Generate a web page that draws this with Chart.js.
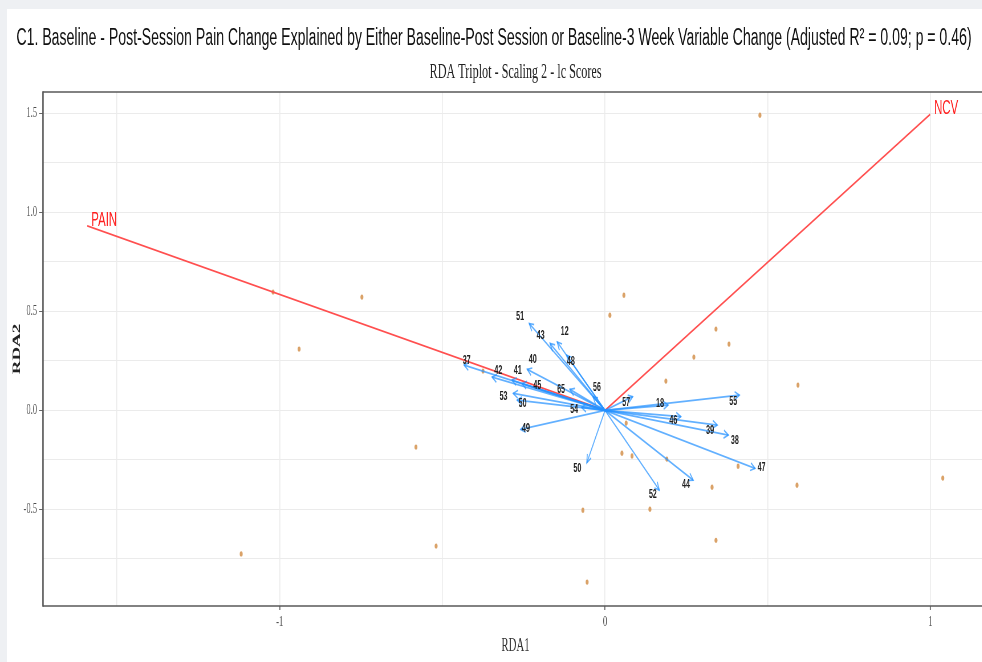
<!DOCTYPE html>
<html><head><meta charset="utf-8">
<script src="https://cdn.jsdelivr.net/npm/chart.js@4.4.1/dist/chart.umd.min.js"></script>
<style>
html,body{margin:0;padding:0;width:982px;height:662px;overflow:hidden;background:#eef0f3;}
#panel{position:absolute;left:7px;top:9px;width:1000px;height:700px;background:#fff;}
#c{position:absolute;left:0;top:0;transform-origin:0 0;}
</style></head>
<body>
<div id="panel"></div>
<canvas id="c" width="1754" height="662"></canvas>
<script>
// ---- data ----
const titleText = 'C1. Baseline - Post-Session Pain Change Explained by Either Baseline-Post Session or Baseline-3 Week Variable Change (Adjusted R\u00B2 = 0.09; p = 0.46)';
const subtitleText = 'RDA Triplot - Scaling 2 - lc Scores';

const pointX = [0.476,-1.020,-0.747,-0.940,0.058,0.015,0.341,0.381,0.273,0.187,0.593,-0.581,0.065,0.052,0.083,0.190,0.409,0.329,0.590,1.038,-0.068,0.138,0.341,-0.519,-1.118,-0.055,-0.375];
const pointY = [1.491,0.598,0.572,0.310,0.582,0.481,0.411,0.335,0.269,0.148,0.128,-0.185,-0.064,-0.216,-0.230,-0.246,-0.282,-0.388,-0.378,-0.342,-0.504,-0.499,-0.656,-0.685,-0.725,-0.867,0.199];

const arrowNames = ['51','43','12','48','40','37','42','41','45','65','56','53','50','54','49','50','52','57','18','55','46','39','38','47','44'];
const arrowX = [-0.233,-0.169,-0.147,-0.118,-0.239,-0.433,-0.347,-0.286,-0.255,-0.108,-0.037,-0.282,-0.270,-0.072,-0.259,-0.056,0.167,0.085,0.194,0.413,0.233,0.345,0.379,0.461,0.271];
const arrowY = [0.439,0.338,0.346,0.279,0.207,0.229,0.168,0.153,0.135,0.106,0.069,0.086,0.052,0.015,-0.096,-0.265,-0.403,0.069,0.027,0.077,-0.032,-0.074,-0.125,-0.293,-0.352];
const labelX = [-0.261,-0.198,-0.124,-0.105,-0.222,-0.425,-0.328,-0.268,-0.208,-0.135,-0.025,-0.312,-0.253,-0.095,-0.243,-0.085,0.147,0.065,0.169,0.394,0.210,0.323,0.399,0.481,0.249];
const labelY = [0.473,0.380,0.397,0.249,0.259,0.251,0.200,0.200,0.123,0.106,0.116,0.072,0.035,0.002,-0.091,-0.293,-0.423,0.038,0.035,0.043,-0.053,-0.103,-0.150,-0.288,-0.377];

const envNames = ['PAIN','NCV'];
const envX = [-1.591, 0.999];
const envY = [0.932, 1.495];

const xRange = [-1.727, 1.177];
const yRange = [-0.988, 1.608];

// ---- layout helpers ----
const S = 1000/1754;                 // horizontal squeeze of the whole picture
const cv = document.getElementById('c');
cv.style.transform = 'scaleX(' + S + ')';
const mctx = document.createElement('canvas').getContext('2d');
mctx.font = '100px "Liberation Sans"';
const titleSize = 100 * (956 / S) / mctx.measureText(titleText).width;
mctx.font = '100px "Liberation Serif"';
const subSize = 100 * (172 / S) / mctx.measureText(subtitleText).width;
const tLH = titleSize * 1.2, sLH = subSize * 1.2;
const padTop = 6;
const tPadTop = 38 - padTop - tLH / 2, tPadBot = 2;
const sPadTop = 72 - (padTop + tPadTop + tLH + tPadBot) - sLH / 2;
const sPadBot = 92 - (72 + sLH / 2);

const near = (v, m) => Math.abs(v / m - Math.round(v / m)) < 1e-6;

const blue = 'rgba(38,145,255,0.72)';
const red = '#ff4f4f';

const datasets = [];
arrowX.forEach((x, i) => datasets.push({
  data: [{x: 0, y: 0}, {x: x, y: arrowY[i]}],
  showLine: true, borderColor: blue, borderWidth: 1.8, pointRadius: 0, tension: 0
}));
envX.forEach((x, i) => datasets.push({
  data: [{x: 0, y: 0}, {x: x, y: envY[i]}],
  showLine: true, borderColor: red, borderWidth: 1.7, pointRadius: 0, tension: 0
}));
datasets.push({
  data: pointX.map((x, i) => ({x: x, y: pointY[i]})),
  showLine: false, pointRadius: 2.6, pointBorderWidth: 0,
  pointBackgroundColor: 'rgba(214,152,88,0.9)'
});

const overlay = {
  id: 'overlay',
  afterDatasetsDraw(chart) {
    const {ctx, chartArea: a, scales: {x, y}} = chart;
    const ox = x.getPixelForValue(0), oy = y.getPixelForValue(0);
    ctx.save();
    // arrowheads
    ctx.strokeStyle = blue; ctx.lineWidth = 1.7;
    arrowX.forEach((vx, i) => {
      const px = x.getPixelForValue(vx), py = y.getPixelForValue(arrowY[i]);
      const ang = Math.atan2(py - oy, px - ox), L = 9, b = Math.PI / 7;
      ctx.beginPath();
      ctx.moveTo(px - L * Math.cos(ang - b), py - L * Math.sin(ang - b));
      ctx.lineTo(px, py);
      ctx.lineTo(px - L * Math.cos(ang + b), py - L * Math.sin(ang + b));
      ctx.stroke();
    });
    // arrow labels
    ctx.fillStyle = '#222';
    ctx.font = 'bold 12.5px "Liberation Sans"';
    ctx.textAlign = 'center'; ctx.textBaseline = 'middle';
    arrowNames.forEach((n, i) => {
      ctx.fillText(n, x.getPixelForValue(labelX[i]), y.getPixelForValue(labelY[i]));
    });
    // environmental labels
    ctx.fillStyle = '#ff2020';
    ctx.font = '20px "Liberation Sans"';
    ctx.textAlign = 'left'; ctx.textBaseline = 'alphabetic';
    envNames.forEach((n, i) => {
      ctx.fillText(n, x.getPixelForValue(envX[i]) + 7, y.getPixelForValue(envY[i]));
    });
    // panel border
    ctx.strokeStyle = '#5a5a5a';
    ctx.lineWidth = 1.5;
    ctx.beginPath();
    ctx.moveTo(a.left, a.top); ctx.lineTo(a.right, a.top);
    ctx.moveTo(a.left, a.bottom); ctx.lineTo(a.right, a.bottom);
    ctx.stroke();
    ctx.lineWidth = 2.6;
    ctx.beginPath();
    ctx.moveTo(a.left, a.top - 0.75); ctx.lineTo(a.left, a.bottom + 0.75);
    ctx.moveTo(a.right, a.top - 0.75); ctx.lineTo(a.right, a.bottom + 0.75);
    ctx.stroke();
    ctx.restore();
  }
};

new Chart(cv, {
  type: 'scatter',
  data: {datasets: datasets},
  plugins: [overlay],
  options: {
    responsive: false, animation: false, devicePixelRatio: 1,
    layout: {padding: {top: padTop, left: 0, right: 21, bottom: 0}},
    plugins: {
      legend: {display: false}, tooltip: {enabled: false},
      title: {display: true, text: titleText, color: '#111',
        font: {family: 'Liberation Sans', size: titleSize, weight: 'normal'},
        padding: {top: tPadTop, bottom: tPadBot}},
      subtitle: {display: true, text: subtitleText, color: '#222', fullSize: false,
        font: {family: 'Liberation Serif', size: subSize, weight: 'normal'},
        padding: {top: sPadTop, bottom: sPadBot}}
    },
    scales: {
      x: {
        type: 'linear', min: xRange[0], max: xRange[1],
        afterBuildTicks: s => { s.ticks = s.ticks.filter(t => near(t.value, 0.5) && t.value > xRange[0] && t.value < xRange[1]); },
        afterFit: s => { s.height = 56; },
        ticks: {stepSize: 0.5, autoSkip: false, maxRotation: 0, padding: 3,
          color: '#4d4d4d', font: {family: 'Liberation Serif', size: 15},
          callback: v => near(v, 1) ? String(Math.round(v)) : ''},
        grid: {color: '#ebebeb', lineWidth: 1.6, tickLength: 4, tickWidth: 1.8,
          tickColor: c => (c.tick && near(c.tick.value, 1)) ? '#666' : 'rgba(0,0,0,0)'},
        border: {display: false},
        title: {display: true, text: 'RDA1', color: '#333',
          font: {family: 'Liberation Serif', size: 19}, padding: {top: 0, bottom: 4.6}}
      },
      y: {
        type: 'linear', min: yRange[0], max: yRange[1],
        afterBuildTicks: s => { s.ticks = s.ticks.filter(t => near(t.value, 0.25) && t.value > yRange[0] && t.value < yRange[1]); },
        afterFit: s => { s.width = 43 / S; },
        ticks: {stepSize: 0.25, autoSkip: false, padding: 3.5,
          color: '#4d4d4d', font: {family: 'Liberation Serif', size: 15},
          callback: v => near(v, 0.5) ? v.toFixed(1) : ''},
        grid: {color: '#ebebeb', lineWidth: 1, tickLength: 7, tickWidth: 1,
          tickColor: c => (c.tick && near(c.tick.value, 0.5)) ? '#666' : 'rgba(0,0,0,0)'},
        border: {display: false},
        title: {display: true, text: 'RDA2', color: '#222',
          font: {family: 'Liberation Serif', size: 19, weight: 'bold'}, padding: {top: 18.4, bottom: 0}}
      }
    }
  }
});
</script>
</body></html>
